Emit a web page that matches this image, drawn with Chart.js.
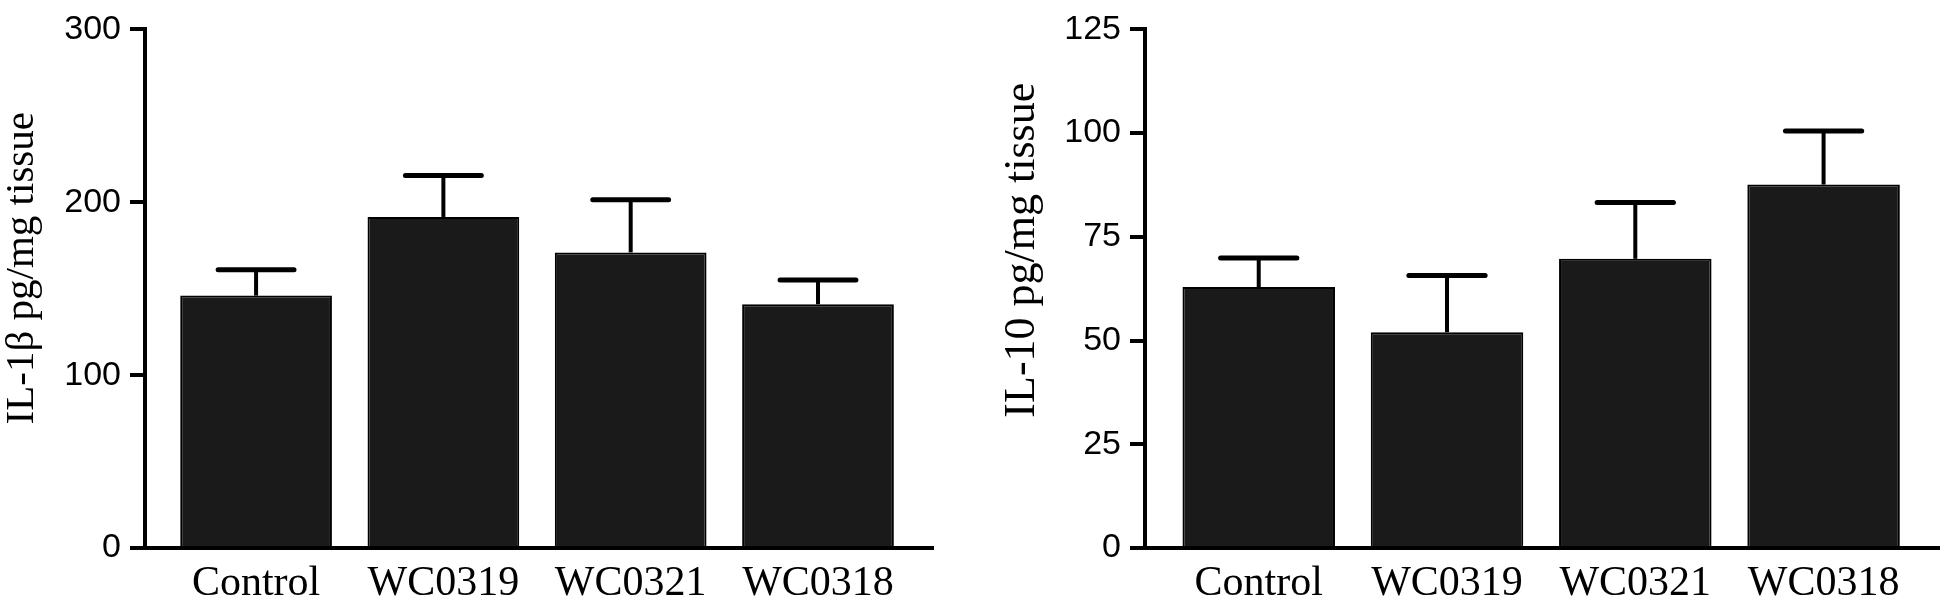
<!DOCTYPE html>
<html>
<head>
<meta charset="utf-8">
<script src="https://cdn.jsdelivr.net/npm/chart.js@4.4.1/dist/chart.umd.min.js"></script>
<style>
  html, body { margin: 0; padding: 0; background: #fff; }
  .panel { position: absolute; top: 0; width: 975px; height: 609px; }
</style>
</head>
<body>
<div class="panel" style="left:0"><canvas id="il1b"></canvas></div>
<div class="panel" style="left:975px"><canvas id="il10"></canvas></div>
<script>
const categories = ['Control', 'WC0319', 'WC0321', 'WC0318'];

// IL-1β panel
const il1bMean = [146, 191.5, 171, 141];
const il1bErr = [15, 24, 30.5, 14];
const il1bTicks = [0, 100, 200, 300];

// IL-10 panel
const il10Mean = [62.9, 52, 69.7, 87.6];
const il10Err = [7, 13.7, 13.6, 12.9];
const il10Ticks = [0, 25, 50, 75, 100, 125];

// upper whiskers only, like the original
const errorBars = {
  id: 'errorBars',
  afterDatasetsDraw(chart) {
    const errs = chart.options.plugins.errorBars.values;
    const ds = chart.data.datasets[0];
    const meta = chart.getDatasetMeta(0);
    const y = chart.scales.y;
    const ctx = chart.ctx;
    ctx.save();
    ctx.strokeStyle = '#000';
    meta.data.forEach((bar, i) => {
      const v = ds.data[i].y;
      const top = y.getPixelForValue(v + errs[i]);
      const base = y.getPixelForValue(v);
      const half = bar.width / 4;
      ctx.lineWidth = 4;
      ctx.lineCap = 'butt';
      ctx.beginPath();
      ctx.moveTo(bar.x, base);
      ctx.lineTo(bar.x, top);
      ctx.stroke();
      ctx.lineWidth = 5;
      ctx.lineCap = 'round';
      ctx.beginPath();
      ctx.moveTo(bar.x - half, top);
      ctx.lineTo(bar.x + half, top);
      ctx.stroke();
    });
    ctx.restore();
  }
};

function makeChart(id, means, errs, ticks, title, opts) {
  const yMax = ticks[ticks.length - 1];
  return new Chart(document.getElementById(id), {
    type: 'bar',
    data: {
      datasets: [{
        data: means.map((v, i) => ({ x: i + 1, y: v })),
        backgroundColor: '#1a1a1a',
        borderColor: '#000',
        borderWidth: 2,
        categoryPercentage: 0.9,
        barPercentage: 0.9
      }]
    },
    options: {
      responsive: true,
      maintainAspectRatio: false,
      animation: false,
      layout: { padding: { left: 0, right: opts.padRight, top: 23, bottom: 0 } },
      plugins: {
        legend: { display: false },
        tooltip: { enabled: false },
        errorBars: { values: errs }
      },
      scales: {
        x: {
          type: 'linear',
          offset: false,
          min: opts.xMin,
          max: opts.xMax,
          afterBuildTicks: s => { s.ticks = categories.map((c, i) => ({ value: i + 1 })); },
          ticks: {
            callback: v => categories[Math.round(v) - 1],
            color: '#000',
            font: { family: 'Liberation Serif', size: 42, lineHeight: 1.2 },
            padding: 11,
            maxRotation: 0,
            autoSkip: false
          },
          grid: { display: false, drawTicks: false, offset: false },
          border: { display: true, color: '#000', width: 4 },
          afterFit: s => { s.height = 61; }
        },
        y: {
          min: 0,
          max: yMax,
          afterBuildTicks: s => { s.ticks = ticks.map(t => ({ value: t })); },
          ticks: {
            color: '#000',
            font: { family: 'Liberation Sans', size: 34 },
            padding: 9
          },
          grid: {
            display: true,
            drawOnChartArea: false,
            drawTicks: true,
            tickLength: 15,
            color: '#000',
            lineWidth: 4
          },
          border: { display: true, color: '#000', width: 4 },
          title: {
            display: true,
            text: title,
            color: '#000',
            font: { family: 'Liberation Serif', size: opts.titleSize, lineHeight: 1 },
            padding: { top: opts.titlePad, bottom: 0 }
          },
          afterFit: s => { s.width = opts.axisX; }
        }
      }
    },
    plugins: [errorBars]
  });
}

makeChart('il1b', il1bMean, il1bErr, il1bTicks, '    IL-1β pg/mg tissue',
  { padRight: 42, axisX: 145, xMin: 0.407, xMax: 4.614, titleSize: 41, titlePad: 2 });
makeChart('il10', il10Mean, il10Err, il10Ticks, '       IL-10 pg/mg tissue',
  { padRight: 11, axisX: 170, xMin: 0.396, xMax: 4.613, titleSize: 44, titlePad: 25 });
</script>
</body>
</html>
